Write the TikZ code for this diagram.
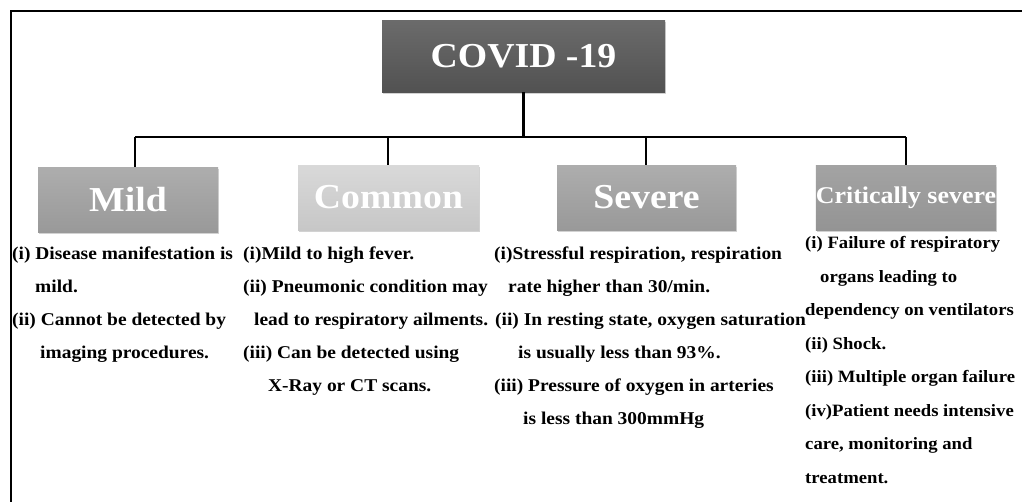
\documentclass[tikz,border=0pt]{standalone}
\usepackage{fontspec}
\setmainfont{Liberation Serif}[FakeStretch=1.08]
\usetikzlibrary{shadows}
\begin{document}
\begin{tikzpicture}[x=1pt,y=-1pt,
  conn/.style={line width=2.4pt,black},
  catbox/.style={draw=none,minimum width=180pt,minimum height=65pt,inner sep=0pt,
    text=white,font=\bfseries\fontsize{35}{40}\selectfont,
    drop shadow={opacity=0.35,shadow xshift=1pt,shadow yshift=-1.5pt}},
  line/.style={anchor=base west,inner sep=0pt,font=\bfseries\fontsize{18}{20}\selectfont},
  cline/.style={line,font=\bfseries\fontsize{17.3}{20}\selectfont}]
\useasboundingbox (0,0) rectangle (1022,501);
\clip (0,0) rectangle (1022,501);
\fill[white] (0,0) rectangle (1022,501);
% outer frame
\draw[line width=2.6pt] (11,505) -- (11,11) -- (1030,11);
% boxes
\node[catbox,minimum width=283pt,minimum height=72pt,top color=black!58,bottom color=black!68] (covid) at (523.5,56) {COVID -19};
\node[catbox,top color=black!32,bottom color=black!40] (mild) at (128,199.5) {Mild};
\node[catbox,minimum width=181pt,top color=black!15,bottom color=black!22] (common) at (388.5,197.5) {Common};
\node[catbox,minimum width=179pt,top color=black!32,bottom color=black!40] (severe) at (646.5,197.5) {Severe};
\node[catbox,top color=black!36,bottom color=black!42,font=\bfseries\fontsize{24}{28}\selectfont] (crit) at (906,197.5) {Critically severe};
% connectors
\coordinate (hub) at (523.5,137);
\coordinate (b1) at (135,137);
\coordinate (b2) at (388,137);
\coordinate (b3) at (646,137);
\coordinate (b4) at (906,137);
\draw[conn] (covid.south) -- (hub);
\draw[conn] (b1) -- (b4);
\draw[conn] (b1) -- (b1 |- mild.north);
\draw[conn] (b2) -- (b2 |- common.north);
\draw[conn] (b3) -- (b3 |- severe.north);
\draw[conn] (b4) -- (b4 |- crit.north);
% Mild text
\node[line] (m1) at (12,259) {(i) Disease manifestation is};
\node[line] (m2) at (35,292) {mild.};
\node[line] (m3) at (12,325) {(ii) Cannot be detected by};
\node[line] (m4) at (40,358) {imaging procedures.};
% Common text
\node[line] (c1) at (243,259) {(i)Mild to high fever.};
\node[line] (c2) at (243,292) {(ii) Pneumonic condition may};
\node[line] (c3) at (254,325) {lead to respiratory ailments.};
\node[line] (c4) at (243,358) {(iii) Can be detected using};
\node[line] (c5) at (268,391) {X-Ray or CT scans.};
% Severe text
\node[line] (s1) at (494,259) {(i)Stressful respiration, respiration};
\node[line] (s2) at (508,292) {rate higher than 30/min.};
\node[line] (s3) at (495,325) {(ii) In resting state, oxygen saturation};
\node[line] (s4) at (518,358) {is usually less than 93\%.};
\node[line] (s5) at (494,391) {(iii) Pressure of oxygen in arteries};
\node[line] (s6) at (523,424) {is less than 300mmHg};
% Critically severe text
\node[cline] (k1) at (805,248) {(i) Failure of respiratory};
\node[cline] (k2) at (820,282) {organs leading to};
\node[cline] (k3) at (805,315) {dependency on ventilators};
\node[cline] (k4) at (805,349) {(ii) Shock.};
\node[cline] (k5) at (805,382) {(iii) Multiple organ failure};
\node[cline] (k6) at (805,416) {(iv)Patient needs intensive};
\node[cline] (k7) at (805,449) {care, monitoring and};
\node[cline] (k8) at (805,483) {treatment.};
\end{tikzpicture}
\end{document}
